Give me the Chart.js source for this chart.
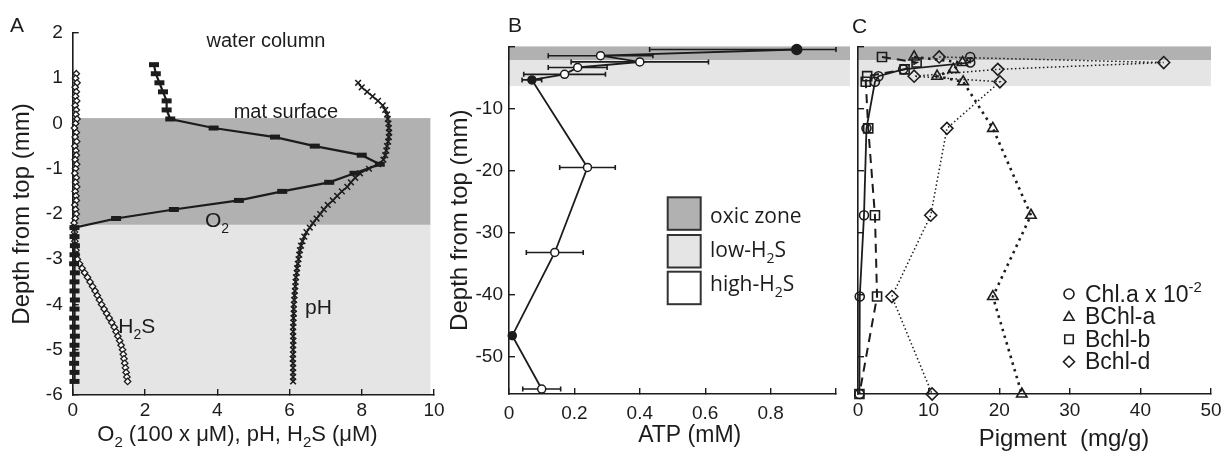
<!DOCTYPE html>
<html>
<head>
<meta charset="utf-8">
<title>Mat profiles</title>
<script src="https://cdn.jsdelivr.net/npm/chart.js@4.4.1/dist/chart.umd.min.js"></script>
<style>
  html, body { margin: 0; padding: 0; background: #fff; }
  #fig { position: relative; width: 1223px; height: 453px; overflow: hidden; }
  #fig canvas { position: absolute; top: 0; }
</style>
</head>
<body>
<div id="fig">
  <canvas id="panelA" width="445" height="453" style="left:0px"></canvas>
  <canvas id="panelB" width="405" height="453" style="left:445px"></canvas>
  <canvas id="panelC" width="373" height="453" style="left:850px"></canvas>
</div>
<script>
// ---- panel A: microsensor profiles (depth mm, 0 = mat surface) ----
const o2Depth = [1.3, 1.1, 0.9, 0.7, 0.5, 0.3, 0.1, -0.1, -0.3, -0.5, -0.7, -0.9, -1.1, -1.3, -1.5, -1.7, -1.9, -2.1,
  -2.3, -2.5, -2.7, -2.9, -3.1, -3.3, -3.5, -3.7, -3.9, -4.1, -4.3, -4.5, -4.7, -4.9, -5.1, -5.3, -5.5, -5.7];
const o2Conc = [2.25, 2.3, 2.4, 2.5, 2.6, 2.6, 2.7, 3.9, 5.6, 6.7, 8.0, 8.5, 7.8, 7.1, 5.8, 4.6, 2.8, 1.2,
  0.05, 0.05, 0.06, 0.05, 0.04, 0.06, 0.05, 0.05, 0.06, 0.05, 0.04, 0.05, 0.06, 0.05, 0.05, 0.04, 0.05, 0.05];

const h2sDepth = [1.1, 1.0, 0.9, 0.8, 0.7, 0.6, 0.5, 0.4, 0.3, 0.2, 0.1, 0, -0.1, -0.2, -0.3, -0.4, -0.5, -0.6, -0.7,
  -0.8, -0.9, -1.0, -1.1, -1.2, -1.3, -1.4, -1.5, -1.6, -1.7, -1.8, -1.9, -2.0, -2.1, -2.2, -2.3, -2.4, -2.5, -2.6,
  -2.7, -2.8, -2.9, -3.0, -3.1, -3.2, -3.3, -3.4, -3.5, -3.6, -3.7, -3.8, -3.9, -4.0, -4.1, -4.2, -4.3, -4.4, -4.5,
  -4.6, -4.7, -4.8, -4.9, -5.0, -5.1, -5.2, -5.3, -5.4, -5.5, -5.6, -5.7];
const h2sConc = [0.1, 0.08, 0.12, 0.07, 0.1, 0.08, 0.11, 0.07, 0.1, 0.09, 0.12, 0.08, 0.05, 0.1, 0.07, 0.11, 0.06,
  0.09, 0.1, 0.07, 0.11, 0.08, 0.06, 0.1, 0.08, 0.11, 0.07, 0.09, 0.1, 0.06, 0.08, 0.1, 0.07, 0.04, 0.02, 0.05, 0.07,
  0.06, 0.08, 0.09, 0.1, 0.13, 0.19, 0.26, 0.33, 0.41, 0.48, 0.55, 0.62, 0.68, 0.74, 0.8, 0.87, 0.94, 1.01, 1.08,
  1.15, 1.2, 1.25, 1.3, 1.34, 1.38, 1.4, 1.42, 1.44, 1.46, 1.48, 1.5, 1.52];

const phDepth = [0.9, 0.8, 0.7, 0.6, 0.5, 0.4, 0.3, 0.2, 0.1, 0, -0.1, -0.2, -0.3, -0.4, -0.5, -0.6, -0.7, -0.8,
  -0.9, -1.0, -1.1, -1.2, -1.3, -1.4, -1.5, -1.6, -1.7, -1.8, -1.9, -2.0, -2.1, -2.2, -2.3, -2.4, -2.5, -2.6, -2.7,
  -2.8, -2.9, -3.0, -3.1, -3.2, -3.3, -3.4, -3.5, -3.6, -3.7, -3.8, -3.9, -4.0, -4.1, -4.2, -4.3, -4.4, -4.5, -4.6,
  -4.7, -4.8, -4.9, -5.0, -5.1, -5.2, -5.3, -5.4, -5.5, -5.6, -5.7];
const phVal = [7.9, 8.0, 8.15, 8.3, 8.45, 8.58, 8.65, 8.7, 8.72, 8.74, 8.75, 8.76, 8.75, 8.73, 8.7, 8.68, 8.65, 8.6,
  8.45, 8.2, 7.95, 7.82, 7.7, 7.6, 7.45, 7.32, 7.2, 7.06, 6.95, 6.85, 6.75, 6.65, 6.56, 6.47, 6.41, 6.36, 6.32,
  6.29, 6.27, 6.25, 6.23, 6.21, 6.2, 6.18, 6.17, 6.16, 6.15, 6.14, 6.13, 6.12, 6.12, 6.12, 6.11, 6.11, 6.1, 6.1,
  6.1, 6.11, 6.1, 6.1, 6.1, 6.09, 6.1, 6.1, 6.1, 6.1, 6.1];

const zonesA = [0.12, -2.24, -6];          // oxic top, oxic / low-H2S boundary, bottom
const zonesAxEnd = 9.9;
const ticksAx = [0, 2, 4, 6, 8, 10];
const ticksAy = [-6, -5, -4, -3, -2, -1, 0, 1, 2];

// ---- panel B: ATP ----
const atpDepth = [-0.5, -1.5, -2.5, -3.4, -4.5, -5.4, -19.5, -33.2, -46.6, -55.2];
const atpConc = [0.88, 0.28, 0.40, 0.21, 0.17, 0.07, 0.24, 0.14, 0.01, 0.10];
const atpErr = [0.45, 0.16, 0.21, 0.09, 0.125, 0.03, 0.085, 0.087, 0, 0.058];
const atpFilled = [true, false, false, false, false, true, false, false, true, false];
const ticksBx = [0, 0.2, 0.4, 0.6, 0.8, 1.0];
const labelsBx = ['0', '0.2', '0.4', '0.6', '0.8', ''];
const ticksDepth = [-50, -40, -30, -20, -10, 0];
const labelsDepth = ['-50', '-40', '-30', '-20', '-10', ''];
const zonesBC = [0, -2.2, -6.4];
const zoneNames = [[['oxic zone', 0]], [['low-H', 0], ['2', 1], ['S', 0]], [['high-H', 0], ['2', 1], ['S', 0]]];

// ---- panel C: pigments ----
const pigDepth = [-1.7, -2.6, -3.7, -4.8, -5.7, -13.2, -27.2, -40.3, -56];
const chlA = [15.9, 15.9, 6.4, 2.9, 2.4, 1.2, 0.85, 0.25, 0.2];
const bchlA = [7.95, 14.8, 13.5, 11.2, 14.9, 19.1, 24.5, 19.1, 23.2];
const bchlB = [3.4, 8.3, 6.6, 1.3, 1.1, 1.45, 2.4, 2.7, 0.2];
const bchlD = [11.5, 43.3, 19.8, 7.95, 20.1, 12.6, 10.3, 4.8, 10.5];
const ticksCx = [0, 10, 20, 30, 40, 50];
const pigNames = [[['Chl.a x 10', 0], ['-2', -1]], [['BChl-a', 0]], [['Bchl-b', 0]], [['Bchl-d', 0]]];

const FONT = '"Liberation Sans", Arial, Helvetica, sans-serif';
const LEGFONT = '"Open Sans", "Liberation Sans", sans-serif';
const INK = '#1c1c1c';
const OXIC = '#b1b1b1';
const LOWH2S = '#e5e5e5';

function xy(vals, depths) {
  return vals.map((v, i) => ({x: v, y: depths[i]}));
}

// text with sub (1) / superscript (-1) pieces, y is the baseline
function rich(ctx, parts, x, y, size, align, family) {
  family = family || FONT;
  const small = Math.round(size * 0.66);
  let w = 0;
  parts.forEach(p => {
    ctx.font = (p[1] ? small : size) + 'px ' + family;
    w += ctx.measureText(p[0]).width;
  });
  let cx = align === 'center' ? x - w / 2 : (align === 'right' ? x - w : x);
  ctx.textAlign = 'left';
  ctx.textBaseline = 'alphabetic';
  parts.forEach(p => {
    ctx.font = (p[1] ? small : size) + 'px ' + family;
    const dy = p[1] === 1 ? size * 0.28 : (p[1] === -1 ? -size * 0.42 : 0);
    ctx.fillText(p[0], cx, y + dy);
    cx += ctx.measureText(p[0]).width;
  });
}

function axis(o) {
  const a = {
    type: 'linear', min: o.min, max: o.max,
    border: {display: true, color: INK, width: 1.6},
    grid: {drawOnChartArea: false, drawTicks: true, tickLength: -6, color: INK, lineWidth: 1.4},
    ticks: {autoSkip: false, maxRotation: 0, padding: o.pad, display: o.labels !== false, color: INK,
            font: {family: FONT, size: 19},
            callback: (v, i) => o.labels ? o.labels[i] : String(v)},
    title: {display: false},
    afterBuildTicks: s => { s.ticks = o.ticks.map(v => ({value: v})); },
    afterFit: s => {
      if (o.w !== undefined) s.width = o.w;
      if (o.h !== undefined) s.height = o.h;
      // let the layout padding alone decide where the plot area ends
      s.paddingLeft = 0; s.paddingRight = 0; s.paddingTop = 0; s.paddingBottom = 0;
    }
  };
  if (o.title) {
    a.title = {display: true, text: o.title, color: INK, font: {family: FONT, size: 24},
               padding: {top: o.tpad, bottom: 0}};
  }
  return a;
}

function zonePlugin(bounds, xEnd) {
  return {
    id: 'zones',
    beforeDraw(chart) {
      const {ctx, chartArea, scales: {x, y}} = chart;
      const x0 = x.getPixelForValue(0);
      const x1 = xEnd === null ? chart.width : (xEnd === 'area' ? chartArea.right : x.getPixelForValue(xEnd));
      const fills = [OXIC, LOWH2S];
      ctx.save();
      for (let i = 0; i < fills.length; i++) {
        const top = y.getPixelForValue(bounds[i]);
        const bot = y.getPixelForValue(bounds[i + 1]);
        ctx.fillStyle = fills[i];
        ctx.fillRect(x0, top, x1 - x0, bot - top);
      }
      ctx.restore();
    }
  };
}

const base = {
  responsive: false,
  animation: false,
  events: [],
  plugins: {legend: {display: false}, tooltip: {enabled: false}}
};

// ---------------- A ----------------
const notesA = {
  id: 'notesA',
  afterDraw(chart) {
    const {ctx, scales: {x, y}} = chart;
    ctx.save();
    ctx.fillStyle = INK;
    rich(ctx, [['A', 0]], 10, 32, 21, 'left');
    rich(ctx, [['water column', 0]], x.getPixelForValue(5.35), y.getPixelForValue(1.7), 20, 'center');
    rich(ctx, [['mat surface', 0]], x.getPixelForValue(5.9), y.getPixelForValue(0.13), 20, 'center');
    rich(ctx, [['O', 0], ['2', 1]], x.getPixelForValue(3.66), y.getPixelForValue(-2.29), 21, 'left');
    rich(ctx, [['H', 0], ['2', 1], ['S', 0]], x.getPixelForValue(1.26), y.getPixelForValue(-4.64), 21, 'left');
    rich(ctx, [['pH', 0]], x.getPixelForValue(6.43), y.getPixelForValue(-4.2), 21, 'left');
    rich(ctx, [['O', 0], ['2', 1], [' (100 x \u03bcM), pH, H', 0], ['2', 1], ['S (\u03bcM)', 0]], 237.5, 441, 22, 'center');
    ctx.restore();
  }
};

new Chart(document.getElementById('panelA'), {
  type: 'scatter',
  data: {
    datasets: [
      {label: 'O2', data: xy(o2Conc, o2Depth), showLine: true, borderColor: INK, borderWidth: 2.2,
       pointStyle: 'line', pointRadius: 5, pointBorderWidth: 5, pointBorderColor: INK, clip: false},
      {label: 'H2S', data: xy(h2sConc, h2sDepth), showLine: true, borderColor: INK, borderWidth: 1.4,
       pointStyle: 'rectRot', pointRadius: 3.2, pointBorderWidth: 1.3, pointBorderColor: INK,
       pointBackgroundColor: '#fff', clip: false},
      {label: 'pH', data: xy(phVal, phDepth), showLine: true, borderColor: INK, borderWidth: 1.4,
       pointStyle: 'crossRot', pointRadius: 4, pointBorderWidth: 1.5, pointBorderColor: INK, clip: false}
    ]
  },
  options: Object.assign({}, base, {
    layout: {padding: {left: 0, top: 33, right: 11, bottom: 0}},
    scales: {
      x: axis({min: 0, max: 10, ticks: ticksAx, pad: 10, h: 58}),
      y: axis({min: -6, max: 2, ticks: ticksAy, pad: 16, w: 72.7, title: 'Depth from top (mm)', tpad: 8})
    }
  }),
  plugins: [zonePlugin(zonesA, zonesAxEnd), notesA]
});

// ---------------- B ----------------
const errorBars = {
  id: 'errorBars',
  beforeDatasetsDraw(chart) {
    const {ctx, scales: {x, y}} = chart;
    ctx.save();
    ctx.strokeStyle = INK;
    ctx.lineWidth = 1.6;
    atpConc.forEach((v, i) => {
      if (!atpErr[i]) return;
      const lo = Math.max(x.min, v - atpErr[i]);
      const hi = Math.min(x.max, v + atpErr[i]);
      const py = y.getPixelForValue(atpDepth[i]);
      const pl = x.getPixelForValue(lo);
      const ph = x.getPixelForValue(hi);
      ctx.beginPath();
      ctx.moveTo(pl, py); ctx.lineTo(ph, py);
      ctx.moveTo(pl, py - 2.5); ctx.lineTo(pl, py + 2.5);
      ctx.moveTo(ph, py - 2.5); ctx.lineTo(ph, py + 2.5);
      ctx.stroke();
    });
    ctx.restore();
  }
};

const notesB = {
  id: 'notesB',
  afterDraw(chart) {
    const ctx = chart.ctx;
    const fills = [OXIC, LOWH2S, '#fff'];
    const boxTop = [197.3, 235, 271.7];
    const baseY = [222.5, 257, 291];
    ctx.save();
    ctx.fillStyle = INK;
    rich(ctx, [['B', 0]], 63, 32, 21, 'left');
    for (let i = 0; i < zoneNames.length; i++) {
      ctx.fillStyle = fills[i];
      ctx.fillRect(222.7, boxTop[i], 33, 32.5);
      ctx.strokeStyle = '#333';
      ctx.lineWidth = 2;
      ctx.strokeRect(222.7, boxTop[i], 33, 32.5);
      ctx.fillStyle = INK;
      rich(ctx, zoneNames[i], 265, baseY[i], 21, 'left', LEGFONT);
    }
    rich(ctx, [['ATP (mM)', 0]], 244.7, 441.7, 23, 'center');
    ctx.restore();
  }
};

new Chart(document.getElementById('panelB'), {
  type: 'scatter',
  data: {
    datasets: [
      {label: 'ATP', data: xy(atpConc, atpDepth), showLine: true, borderColor: INK, borderWidth: 1.8,
       pointStyle: 'circle', pointRadius: atpDepth.map((d, i) => i === 0 ? 5 : 4),
       pointBorderWidth: 1.5, pointBorderColor: INK,
       pointBackgroundColor: atpFilled.map(f => f ? INK : '#fff'), clip: false}
    ]
  },
  options: Object.assign({}, base, {
    layout: {padding: {left: 0, top: 46.4, right: 14, bottom: 0}},
    scales: {
      x: axis({min: 0, max: 1, ticks: ticksBx, labels: labelsBx, pad: 14, h: 59}),
      y: axis({min: -56, max: 0, ticks: ticksDepth, labels: labelsDepth, pad: 12, w: 64,
               title: 'Depth from top (mm)', tpad: 1})
    }
  }),
  plugins: [zonePlugin(zonesBC, null), errorBars, notesB]
});

// ---------------- C ----------------
function marker(ctx, style, cx, cy, r) {
  ctx.beginPath();
  if (style === 'circle') {
    ctx.arc(cx, cy, r, 0, 2 * Math.PI);
  } else if (style === 'triangle') {
    ctx.moveTo(cx, cy - r); ctx.lineTo(cx + r, cy + r * 0.7); ctx.lineTo(cx - r, cy + r * 0.7); ctx.closePath();
  } else if (style === 'rect') {
    ctx.rect(cx - r * 0.85, cy - r * 0.85, r * 1.7, r * 1.7);
  } else {
    ctx.moveTo(cx, cy - r * 1.1); ctx.lineTo(cx + r * 1.1, cy); ctx.lineTo(cx, cy + r * 1.1); ctx.lineTo(cx - r * 1.1, cy);
    ctx.closePath();
  }
  ctx.stroke();
}

const notesC = {
  id: 'notesC',
  afterDraw(chart) {
    const ctx = chart.ctx;
    const styles = ['circle', 'triangle', 'rect', 'rectRot'];
    const markY = [294, 316.7, 339.3, 361.7];
    const textY = [301.5, 324, 346.5, 369];
    ctx.save();
    ctx.fillStyle = INK;
    ctx.strokeStyle = INK;
    ctx.lineWidth = 1.6;
    rich(ctx, [['C', 0]], 2, 33, 21, 'left');
    for (let i = 0; i < pigNames.length; i++) {
      marker(ctx, styles[i], 219, markY[i], 5);
      rich(ctx, pigNames[i], 235, textY[i], 23, 'left');
    }
    rich(ctx, [['Pigment  (mg/g)', 0]], 214, 446, 24, 'center');
    ctx.restore();
  }
};

new Chart(document.getElementById('panelC'), {
  type: 'scatter',
  data: {
    datasets: [
      {label: 'Chl.a x 10^-2', data: xy(chlA, pigDepth), showLine: true, borderColor: INK, borderWidth: 1.8,
       pointStyle: 'circle', pointRadius: 4.5, pointBorderWidth: 1.6, pointBorderColor: INK,
       pointBackgroundColor: 'rgba(0,0,0,0)', clip: false},
      {label: 'BChl-a', data: xy(bchlA, pigDepth), showLine: true, borderColor: INK, borderWidth: 2.6,
       borderDash: [2.5, 4.5], pointStyle: 'triangle', pointRadius: 6, pointBorderWidth: 1.6,
       pointBorderColor: INK, pointBackgroundColor: 'rgba(0,0,0,0)', clip: false},
      {label: 'Bchl-b', data: xy(bchlB, pigDepth), showLine: true, borderColor: INK, borderWidth: 2,
       borderDash: [9, 6], pointStyle: 'rect', pointRadius: 6.4, pointBorderWidth: 1.6,
       pointBorderColor: INK, pointBackgroundColor: 'rgba(0,0,0,0)', clip: false},
      {label: 'Bchl-d', data: xy(bchlD, pigDepth), showLine: true, borderColor: INK, borderWidth: 1.5,
       borderDash: [1.5, 2.5], pointStyle: 'rectRot', pointRadius: 6, pointBorderWidth: 1.6,
       pointBorderColor: INK, pointBackgroundColor: 'rgba(0,0,0,0)', clip: false}
    ]
  },
  options: Object.assign({}, base, {
    layout: {padding: {left: 0, top: 46.4, right: 12, bottom: 0}},
    scales: {
      x: axis({min: 0, max: 50, ticks: ticksCx, pad: 11, h: 59}),
      y: axis({min: -56, max: 0, ticks: ticksDepth, labels: false, pad: 0, w: 2})
    }
  }),
  plugins: [zonePlugin(zonesBC, 'area'), notesC]
});
</script>
</body>
</html>
